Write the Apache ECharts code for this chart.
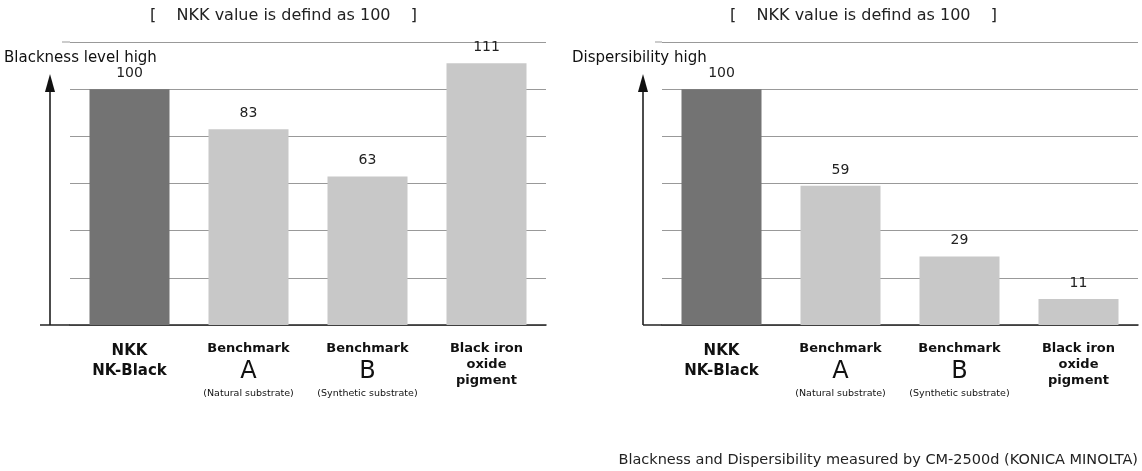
<!DOCTYPE html>
<html>
<head>
<script src="https://cdn.jsdelivr.net/npm/echarts@6/dist/echarts.min.js"></script>
<style>body{margin:0;background:#fff}#main{width:1142px;height:471px}</style>
</head>
<body>
<div id="main"></div>
<script>
var categories = ['NKK\nNK-Black', 'Benchmark\nA\n(Natural substrate)', 'Benchmark\nB\n(Synthetic substrate)', 'Black iron\noxide\npigment'];
var blackness = [100, 83, 63, 111];
var dispersibility = [100, 59, 29, 11];
var yTicks = [0, 20, 40, 60, 80, 100, 120];
var F = '"DejaVu Sans", "Noto Sans", sans-serif';

function labelFmt(v, i) {
    var p = v.split('\n');
    if (i == 0) return '{big|' + p[0] + '}\n{big|' + p[1] + '}';
    if (i == 3) return '{mid|' + p[0] + '}\n{mid|' + p[1] + '}\n{mid|' + p[2] + '}';
    return '{mid|' + p[0] + '}\n{letter|' + p[1] + '}\n{small|' + p[2] + '}';
}
function mkX(idx) {
    return {
        type: 'category', gridIndex: idx, data: categories,
        axisTick: { show: false },
        axisLine: { lineStyle: { color: '#222', width: 1.5 } },
        axisLabel: {
            interval: 0, margin: 16, formatter: labelFmt, color: '#111', fontFamily: F,
            rich: {
                big: { fontSize: 15, fontWeight: 'bold', lineHeight: 20, fontFamily: F },
                mid: { fontSize: 13, fontWeight: 'bold', lineHeight: 16, fontFamily: F },
                letter: { fontSize: 24, lineHeight: 30, fontFamily: F },
                small: { fontSize: 9.5, lineHeight: 14, fontFamily: F }
            }
        }
    };
}
function mkY(idx) {
    return {
        type: 'value', gridIndex: idx, min: yTicks[0], max: yTicks[yTicks.length - 1], interval: 20,
        axisLabel: { show: false }, axisLine: { show: false }, axisTick: { show: false },
        splitLine: { lineStyle: { color: '#999', width: 1 } }
    };
}
function mkS(idx, data) {
    return {
        type: 'bar', xAxisIndex: idx, yAxisIndex: idx, barWidth: 80,
        data: data.map(function (v, i) { return { value: v, itemStyle: { color: i == 0 ? '#737373' : '#c8c8c8' } }; }),
        label: { show: true, position: 'top', distance: 2, color: '#222', fontSize: 14, fontFamily: F }
    };
}
var chart = echarts.init(document.getElementById('main'));
chart.setOption({
    animation: false,
    grid: [
        { left: 70, width: 476, top: 42, height: 283 },
        { left: 662, width: 476, top: 42, height: 283 }
    ],
    xAxis: [mkX(0), mkX(1)],
    yAxis: [mkY(0), mkY(1)],
    series: [mkS(0, blackness), mkS(1, dispersibility)],
    graphic: [
        { type: 'text', left: 150, top: 0, style: { text: '[    NKK value is defind as 100    ]', font: '16px ' + F, fill: '#222' } },
        { type: 'text', left: 730, top: 0, style: { text: '[    NKK value is defind as 100    ]', font: '16px ' + F, fill: '#222' } },
        { type: 'text', left: 4, top: 43, style: { text: 'Blackness level high', font: '15px ' + F, fill: '#111' } },
        { type: 'text', left: 572, top: 43, style: { text: 'Dispersibility high', font: '15px ' + F, fill: '#111' } },
        { type: 'line', shape: { x1: 62, y1: 42, x2: 70, y2: 42 }, style: { stroke: '#999' } },
        { type: 'line', shape: { x1: 655, y1: 42, x2: 662, y2: 42 }, style: { stroke: '#999' } },
        { type: 'line', shape: { x1: 50, y1: 325, x2: 50, y2: 84 }, style: { stroke: '#111', lineWidth: 1.5 } },
        { type: 'polygon', shape: { points: [[45, 92], [50, 74], [55, 92]] }, style: { fill: '#111' } },
        { type: 'line', shape: { x1: 40, y1: 325, x2: 70, y2: 325 }, style: { stroke: '#222', lineWidth: 1.5 } },
        { type: 'line', shape: { x1: 643, y1: 325, x2: 643, y2: 84 }, style: { stroke: '#111', lineWidth: 1.5 } },
        { type: 'polygon', shape: { points: [[638, 92], [643, 74], [648, 92]] }, style: { fill: '#111' } },
        { type: 'line', shape: { x1: 643, y1: 325, x2: 662, y2: 325 }, style: { stroke: '#222', lineWidth: 1.5 } },
        { type: 'text', right: 4, top: 446, style: { text: 'Blackness and Dispersibility measured by CM-2500d (KONICA MINOLTA)', font: '14.5px ' + F, fill: '#222' } }
    ]
});
</script>
</body>
</html>
